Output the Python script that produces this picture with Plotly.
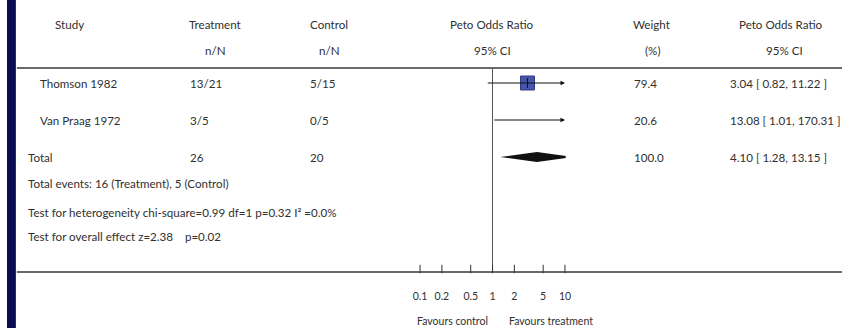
import math
import plotly.graph_objects as go

# ---------------- data ----------------
studies = ["Thomson 1982", "Van Praag 1972"]
treat_events = [13, 3]
treat_total = [21, 5]
ctrl_events = [5, 0]
ctrl_total = [15, 5]
weights = [79.4, 20.6]
or_est = [3.04, 13.08]
ci_low = [0.82, 1.01]
ci_high = [11.22, 170.31]

pooled_treat_n = 26
pooled_ctrl_n = 20
pooled_weight = 100.0
pooled_or = 4.10
pooled_low = 1.28
pooled_high = 13.15
events_treat = 16
events_ctrl = 5
het_chi2 = 0.99
het_df = 1
het_p = 0.32
het_i2 = 0.0
overall_z = 2.38
overall_p = 0.02

tick_vals = [0.1, 0.2, 0.5, 1, 2, 5, 10]
tick_text = ["0.1", "0.2", "0.5", "1", "2", "5", "10"]

# ---------------- layout constants ----------------
W, H = 847, 328
FONT = "Lato"
TXT = "#303030"
FS = 11.6
AX_MIN, AX_MAX = 0.1, 10
AX_L, AX_R = 419, 566           # pixel positions of AX_MIN / AX_MAX
PAD = 0.01                      # tiny range padding (log units)
Y_TOP, Y_BOT = 68, 272          # header rule / bottom rule (px)
ROW_Y = [83, 120]               # study rows
TOTAL_Y = 157


def px(x):
    return x / W


def py(y):
    return 1 - y / H


fig = go.Figure()

# line of no effect
fig.add_trace(go.Scatter(x=[1, 1], y=[Y_BOT, Y_TOP], mode="lines",
                         line=dict(color="#555", width=1), cliponaxis=False,
                         hoverinfo="skip", showlegend=False))

# tick marks standing on the bottom rule
fig.add_trace(go.Scatter(x=tick_vals, y=[Y_BOT - 3] * len(tick_vals), mode="markers",
                         marker=dict(symbol="line-ns", size=6,
                                     line=dict(color="#333", width=1)),
                         cliponaxis=False, hoverinfo="skip", showlegend=False))

# study boxes (size by weight)
for i in range(len(studies)):
    size = 14 * math.sqrt(weights[i] / max(weights))
    fig.add_trace(go.Scatter(
        x=[or_est[i]], y=[ROW_Y[i]], mode="markers",
        marker=dict(symbol="square", size=size, color="#4556a8",
                    line=dict(color="#2f3d86", width=1)),
        hoverinfo="skip", showlegend=False))
    fig.add_trace(go.Scatter(
        x=[or_est[i]], y=[ROW_Y[i]], mode="markers",
        marker=dict(symbol="line-ns", size=7, line=dict(color="#111", width=1)),
        hoverinfo="skip", showlegend=False))

# pooled diamond
fig.add_trace(go.Scatter(
    x=[pooled_low, pooled_or, pooled_high, pooled_or, pooled_low],
    y=[TOTAL_Y, TOTAL_Y - 5, TOTAL_Y, TOTAL_Y + 5, TOTAL_Y],
    mode="lines", fill="toself", fillcolor="#111", line=dict(width=0, color="#111"),
    hoverinfo="skip", showlegend=False))

annotations = []
shapes = []

# CI lines (arrow when beyond axis)
for i in range(len(studies)):
    lo = max(ci_low[i], AX_MIN)
    hi = min(ci_high[i], AX_MAX)
    if ci_high[i] > AX_MAX:
        annotations.append(dict(
            x=math.log10(hi), y=ROW_Y[i], ax=math.log10(lo), ay=ROW_Y[i],
            xref="x", yref="y", axref="x", ayref="y", text="", showarrow=True,
            arrowhead=2, arrowsize=0.9, arrowwidth=1, arrowcolor="#111", standoff=0))
    else:
        fig.add_trace(go.Scatter(x=[lo, hi], y=[ROW_Y[i], ROW_Y[i]], mode="lines",
                                 line=dict(color="#111", width=1),
                                 hoverinfo="skip", showlegend=False))

# rules
for yy in (Y_TOP, Y_BOT):
    shapes.append(dict(type="line", xref="paper", yref="paper", x0=px(10), x1=1,
                       y0=py(yy), y1=py(yy), layer="below",
                       line=dict(color="#6a6a6a", width=2)))
# navy left border
shapes.append(dict(type="rect", xref="paper", yref="paper", x0=0, x1=px(9), y0=0, y1=1,
                   fillcolor="#0b0b52", line=dict(width=0)))


def txt(s, x, y, anchor="left", size=FS):
    annotations.append(dict(text=s, x=px(x), y=py(y), xref="paper", yref="paper",
                            xanchor=anchor, yanchor="middle", showarrow=False,
                            font=dict(family=FONT, size=size, color=TXT)))


# headers
txt("Study", 63, 25, "center")
txt("Treatment", 211, 25, "center")
txt("n/N", 212, 50, "center")
txt("Control", 327, 25, "center")
txt("n/N", 327, 50, "center")
txt("Peto Odds Ratio", 492, 25, "center")
txt("95% CI", 492, 50, "center")
txt("Weight", 654, 25, "center")
txt("(%)", 655, 50, "center")
txt("Peto Odds Ratio", 785, 25, "center")
txt("95% CI", 789, 50, "center")

# study rows
LEFT_STUDY = 31
LEFT_FOOT = 19
for i, s in enumerate(studies):
    y = ROW_Y[i]
    txt(s, LEFT_STUDY, y)
    txt(f"{treat_events[i]}/{treat_total[i]}", 184, y)
    txt(f"{ctrl_events[i]}/{ctrl_total[i]}", 305, y)
    txt(f"{weights[i]:.1f}", 634, y)
    txt(f"{or_est[i]:.2f} [ {ci_low[i]:.2f}, {ci_high[i]:.2f} ]", 731, y)

# total row
txt("Total", LEFT_FOOT, TOTAL_Y)
txt(f"{pooled_treat_n}", 184, TOTAL_Y)
txt(f"{pooled_ctrl_n}", 305, TOTAL_Y)
txt(f"{pooled_weight:.1f}", 634, TOTAL_Y)
txt(f"{pooled_or:.2f} [ {pooled_low:.2f}, {pooled_high:.2f} ]", 731, TOTAL_Y)

txt(f"Total events: {events_treat} (Treatment), {events_ctrl} (Control)", LEFT_FOOT, 183)
txt(f"Test for heterogeneity chi-square={het_chi2:.2f} df={het_df} p={het_p:.2f} I\u00b2 ={het_i2:.1f}%", LEFT_FOOT, 212)
txt(f"Test for overall effect z={overall_z:.2f}\u00a0\u00a0\u00a0\u00a0p={overall_p:.2f}", LEFT_FOOT, 236)

txt("Favours control", 452, 321, "center", 10.5)
txt("Favours treatment", 552, 321, "center", 10.5)

lmin, lmax = math.log10(AX_MIN), math.log10(AX_MAX)
ppu = (AX_R - AX_L) / (lmax - lmin)     # pixels per log unit

fig.update_layout(
    width=W, height=H, margin=dict(l=0, r=0, t=0, b=0),
    paper_bgcolor="white", plot_bgcolor="rgba(0,0,0,0)",
    showlegend=False, shapes=shapes, annotations=annotations,
    xaxis=dict(type="log", range=[lmin - PAD, lmax + PAD],
               domain=[px(AX_L - PAD * ppu), px(AX_R + PAD * ppu)],
               tickvals=tick_vals, ticktext=tick_text, ticks="",
               showline=False, showgrid=False, zeroline=False,
               ticklabelstandoff=16,
               tickfont=dict(family=FONT, size=10.5, color=TXT), fixedrange=True),
    yaxis=dict(range=[Y_BOT, Y_TOP], domain=[py(Y_BOT), py(Y_TOP)], visible=False,
               showgrid=False, zeroline=False, fixedrange=True),
)

fig.write_html("out.html")
